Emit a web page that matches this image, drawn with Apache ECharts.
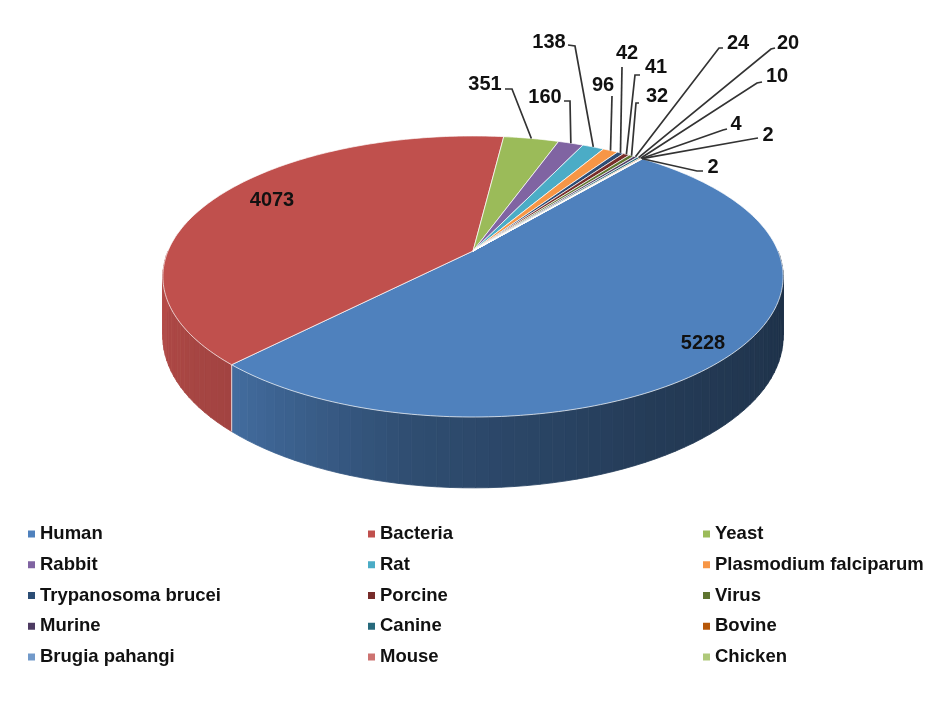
<!DOCTYPE html>
<html>
<head>
<meta charset="utf-8">
<script src="https://cdn.jsdelivr.net/npm/echarts/dist/echarts.min.js"></script>
<style>
  html, body { margin: 0; padding: 0; background: #ffffff; }
  #chart { width: 931px; height: 706px; }
</style>
</head>
<body>
<div id="chart"></div>
<script>
// ---- data ----
const species = ['Human', 'Bacteria', 'Yeast', 'Rabbit', 'Rat', 'Plasmodium falciparum',
  'Trypanosoma brucei', 'Porcine', 'Virus', 'Murine', 'Canine', 'Bovine',
  'Brugia pahangi', 'Mouse', 'Chicken'];
const counts = [5228, 4073, 351, 160, 138, 96, 42, 41, 32, 24, 20, 10, 4, 2, 2];

// ---- styling ----
const palette = ['#4f81bd', '#c0504d', '#9bbb59', '#8064a2', '#4bacc6', '#f79646',
  '#2c4d75', '#772c2a', '#5f7530', '#4d3b62', '#276a7c', '#b65708',
  '#729aca', '#cd7371', '#afc97a'];

// tilted-disc view: centre of the top face, radii, perspective strength, wall height
const VIEW = { cx: 473, cy: 251, rx: 305, ry: 135.9, persp: 0.1814, depth: 58 };
// screen angle (clockwise from 3 o'clock) where the first slice begins
const START_DEG = 309.3;

// label placement: text centre and the leader's elbow points (slice end is computed)
const labelSpots = [
  { text: [703, 343] },
  { text: [272, 200] },
  { text: [485, 84],  lead: [[505, 89], [512, 89]] },
  { text: [545, 97],  lead: [[564, 101], [570, 101]] },
  { text: [549, 42],  lead: [[568, 45], [575, 46]] },
  { text: [603, 85],  lead: [[612, 96]] },
  { text: [627, 53],  lead: [[622, 67]] },
  { text: [656, 67],  lead: [[640, 75], [635, 75]] },
  { text: [657, 96],  lead: [[639, 103], [636, 103]] },
  { text: [738, 43],  lead: [[723, 48], [719, 48]] },
  { text: [788, 43],  lead: [[775, 48], [771, 49]] },
  { text: [777, 76],  lead: [[762, 82], [757, 83]] },
  { text: [736, 124], lead: [[727, 129], [723, 130]] },
  { text: [768, 135], lead: [[758, 138], [752, 139]] },
  { text: [713, 167], lead: [[703, 171], [697, 171]] }
];

const TOTAL = counts.reduce((s, v) => s + v, 0);
const FONT = '"Liberation Sans", Arial, Helvetica, sans-serif';

// project a point of the disc (angle in degrees, radius fraction) to the screen
function project(deg, r, lower) {
  const a = deg * Math.PI / 180;
  const X = r * Math.cos(a), Z = r * Math.sin(a);
  const k = 1 / (1 - VIEW.persp * Z);
  return [VIEW.cx + VIEW.rx * X * k,
          VIEW.cy + VIEW.ry * Z * k + (lower ? VIEW.depth * k : 0)];
}

// brightness of the side wall by angle (light from the left)
const WALL_LIGHT = [[0, 0.36], [60, 0.46], [100, 0.6], [133, 0.84], [180, 0.95]];
function wallFactor(deg) {
  const d = ((deg % 360) + 360) % 360;
  for (let i = 1; i < WALL_LIGHT.length; i++) {
    const [x0, y0] = WALL_LIGHT[i - 1], [x1, y1] = WALL_LIGHT[i];
    if (d <= x1) return y0 + (y1 - y0) * (d - x0) / (x1 - x0);
  }
  return WALL_LIGHT[WALL_LIGHT.length - 1][1];
}
function shade(hex, f) {
  const n = parseInt(hex.slice(1), 16);
  const c = [(n >> 16) & 255, (n >> 8) & 255, n & 255].map(v => Math.min(255, Math.round(v * f)));
  return 'rgb(' + c.join(',') + ')';
}

function arcPoints(a0, a1, r, lower) {
  const pts = [];
  const steps = Math.max(1, Math.ceil((a1 - a0) / 1));
  for (let s = 0; s <= steps; s++) pts.push(project(a0 + (a1 - a0) * s / steps, r, lower));
  return pts;
}

function renderSlice(params, api) {
  const idx = params.seriesIndex;
  const color = palette[idx];
  const before = api.value(0), val = api.value(1);
  const a0 = START_DEG + before / TOTAL * 360;
  const a1 = a0 + val / TOTAL * 360;
  const children = [];

  // side wall, only the half that faces the viewer
  for (let k = 0; k <= 720; k += 360) {
    const w0 = Math.max(a0, k), w1 = Math.min(a1, k + 180);
    if (w1 <= w0) continue;
    const steps = Math.max(1, Math.ceil((w1 - w0) / 2));
    for (let s = 0; s < steps; s++) {
      const t0 = w0 + (w1 - w0) * s / steps, t1 = w0 + (w1 - w0) * (s + 1) / steps;
      const fill = shade(color, wallFactor((t0 + t1) / 2));
      children.push({
        type: 'polygon', z2: 1,
        shape: { points: [project(t0, 1, false), project(t1, 1, false), project(t1, 1, true), project(t0, 1, true)] },
        style: { fill: fill, stroke: fill, lineWidth: 0.8 }
      });
    }
    if (a0 >= k && a0 <= k + 180) {
      const p = project(a0, 1, false), q = project(a0, 1, true);
      children.push({
        type: 'line', z2: 3,
        shape: { x1: p[0], y1: p[1], x2: q[0], y2: q[1] },
        style: { stroke: 'rgba(255,255,255,0.65)', lineWidth: 1.2 }
      });
    }
  }

  // top face
  const top = [project(0, 0, false)].concat(arcPoints(a0, a1, 1, false));
  children.push({
    type: 'polygon', z2: 10,
    shape: { points: top },
    style: { fill: color, stroke: 'rgba(255,255,255,0.7)', lineWidth: 1, lineJoin: 'round' }
  });

  // value label with optional leader
  const spot = labelSpots[idx];
  if (spot.lead) {
    const mid = (a0 + a1) / 2;
    const pts = spot.lead.concat([project(mid, 1, false)]);
    children.push({
      type: 'polyline', z2: 20,
      shape: { points: pts },
      style: { stroke: '#333333', lineWidth: 1.7, fill: null }
    });
  }
  children.push({
    type: 'text', z2: 21,
    x: spot.text[0], y: spot.text[1],
    style: {
      text: String(val), fill: '#111111',
      font: 'bold 20px ' + FONT,
      align: 'center', verticalAlign: 'middle'
    }
  });

  return { type: 'group', children: children };
}

let running = 0;
const series = species.map((name, i) => {
  const item = [running, counts[i]];
  running += counts[i];
  return {
    type: 'custom', name: name,
    coordinateSystem: 'none',
    itemStyle: { color: palette[i] },
    silent: true,
    animation: false,
    renderItem: renderSlice,
    data: [item]
  };
});

// legend in three columns
const legendColumns = [[0, 3, 6, 9, 12], [1, 4, 7, 10, 13], [2, 5, 8, 11, 14]];
const legendLeft = [28, 368, 703];
const legends = legendColumns.map((col, c) => ({
  orient: 'vertical',
  left: legendLeft[c], top: 523,
  padding: 0,
  itemWidth: 7, itemHeight: 7, itemGap: 8.75,
  icon: 'rect',
  selectedMode: false,
  data: col.map(i => species[i]),
  textStyle: { color: '#111', fontSize: 18.5, fontWeight: 'bold', fontFamily: FONT, lineHeight: 22 }
}));

const chart = echarts.init(document.getElementById('chart'), null, { renderer: 'canvas' });
chart.setOption({
  backgroundColor: '#ffffff',
  animation: false,
  legend: legends,
  series: series
});
</script>
</body>
</html>
